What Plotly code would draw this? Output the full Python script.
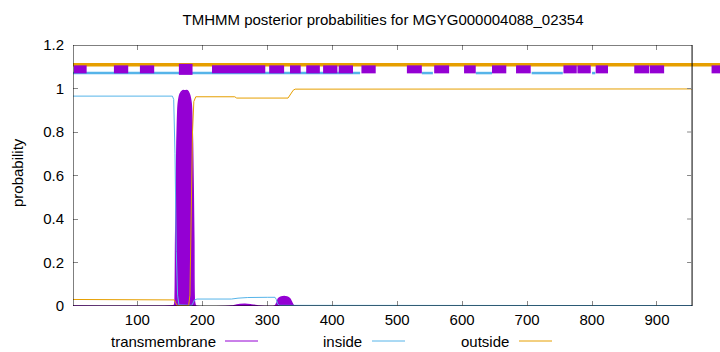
import plotly.graph_objects as go

# ---- data ----
seq_len = 954

tm_pos = [1, 150, 157, 158, 159, 161, 163, 166, 170, 173, 177, 180, 183, 185, 187, 188, 190,
          245, 252, 258, 266, 274, 280, 286, 312, 315, 317, 320, 324, 328, 332, 335, 338, 340, 342, 954]
tm_val = [0.0, 0.0, 0.003, 0.02, 0.3, 0.75, 0.93, 0.975, 0.99, 0.99, 0.99, 0.975, 0.93, 0.75, 0.3, 0.02, 0.0,
          0.0, 0.004, 0.007, 0.008, 0.006, 0.003, 0.0, 0.0, 0.015, 0.032, 0.04, 0.043, 0.043, 0.04, 0.032, 0.015, 0.004, 0.0, 0.0]

in_pos = [1, 154, 156, 158, 160, 162, 164, 184, 186, 188, 192, 245, 255, 270, 300, 312, 314, 316, 319, 954]
in_val = [0.965, 0.965, 0.95, 0.7, 0.25, 0.05, 0.005, 0.003, 0.015, 0.028, 0.032, 0.032, 0.036, 0.039, 0.04, 0.04, 0.03, 0.01, 0.003, 0.002]

out_pos = [1, 154, 157, 159, 161, 163, 179, 181, 183, 185, 187, 190, 250, 253, 332, 336, 340, 343, 954]
out_val = [0.03, 0.03, 0.028, 0.015, 0.004, 0.001, 0.001, 0.05, 0.4, 0.8, 0.94, 0.962, 0.962, 0.956, 0.956, 0.975, 0.992, 0.997, 0.998]

# top strip: predicted regions
outside_strip = [(1, 1010)]
inside_strip = [(1, 443), (538, 555), (621, 646), (707, 755), (800, 805)]
tm_boxes = [(2.5, 22), (64, 86), (104, 126), (215, 297), (303, 326), (335, 351.5), (360, 381),
            (386, 408), (410, 432), (445, 467), (515, 538), (557, 580), (603, 621), (646, 668),
            (683, 705.6), (756, 776.5), (777.5, 798), (805.6, 824.6), (865, 888), (889, 911), (984, 1010)]
tm_big_box = [(164, 185)]
strip_levels = {"outside": 1.109, "tm": 1.088, "inside": 1.071}

x_ticks = [100, 200, 300, 400, 500, 600, 700, 800, 900]
y_ticks = [0, 0.2, 0.4, 0.6, 0.8, 1, 1.2]
y_tick_labels = ["0", "0.2", "0.4", "0.6", "0.8", "1", "1.2"]

C_TM = "#9400D3"
C_IN = "#56B4E9"
C_OUT = "#E69F00"
FONT = "Liberation Sans, Arial, sans-serif"
FS = 15


def segs(pairs, level):
    xs, ys = [], []
    for a, b in pairs:
        xs += [a, b, None]
        ys += [level, level, None]
    return xs, ys


fig = go.Figure()

# main curves
fig.add_trace(go.Scatter(x=tm_pos, y=tm_val, mode="lines", fill="tozeroy",
                         fillcolor=C_TM, line=dict(color=C_TM, width=1.5, shape="spline", smoothing=0.6),
                         hoverinfo="skip"))
fig.add_trace(go.Scatter(x=in_pos, y=in_val, mode="lines",
                         line=dict(color=C_IN, width=1), hoverinfo="skip"))
fig.add_trace(go.Scatter(x=out_pos, y=out_val, mode="lines",
                         line=dict(color=C_OUT, width=1), hoverinfo="skip"))

# top strip
x, y = segs(outside_strip, strip_levels["outside"])
fig.add_trace(go.Scatter(x=x, y=y, mode="lines", line=dict(color=C_OUT, width=3.5), hoverinfo="skip"))
x, y = segs(inside_strip, strip_levels["inside"])
fig.add_trace(go.Scatter(x=x, y=y, mode="lines", line=dict(color=C_IN, width=2.5), hoverinfo="skip"))
x, y = segs(tm_boxes, strip_levels["tm"])
fig.add_trace(go.Scatter(x=x, y=y, mode="lines", line=dict(color=C_TM, width=8), hoverinfo="skip"))
x, y = segs(tm_big_box, strip_levels["tm"])
fig.add_trace(go.Scatter(x=x, y=y, mode="lines", line=dict(color=C_TM, width=11), hoverinfo="skip"))

W, H = 720, 352
ML, MR, MT, MB = 73, 0, 45, 46
pw = W - ML - MR
ph = H - MT - MB
x_range = [1, 997]

shapes = [dict(type="rect", xref="x", yref="y", x0=1, x1=seq_len, y0=0, y1=1.2,
               line=dict(color="black", width=1), layer="above")]
# right-side ticks of the frame
tick_dx = 5 * (x_range[1] - x_range[0]) / pw
for t in y_ticks[1:-1]:
    shapes.append(dict(type="line", xref="x", yref="y", x0=seq_len - tick_dx, x1=seq_len,
                       y0=t, y1=t, line=dict(color="#888888", width=1)))

# legend (gnuplot style: text then line sample)
leg_y_px = 341
leg_items = [("transmembrane", C_TM, 218, 225, 258),
             ("inside", C_IN, 364, 372, 405),
             ("outside", C_OUT, 511, 519, 552)]
annotations = []
for name, col, txt_end, l0, l1 in leg_items:
    yp = (H - MB - leg_y_px) / ph
    annotations.append(dict(text=name, xref="paper", yref="paper", x=(txt_end - ML) / pw, y=yp,
                            xanchor="right", yanchor="middle", showarrow=False,
                            font=dict(family=FONT, size=FS, color="black")))
    shapes.append(dict(type="line", xref="paper", yref="paper", x0=(l0 - ML) / pw, x1=(l1 - ML) / pw,
                       y0=yp, y1=yp, line=dict(color=col, width=1)))

annotations.append(dict(text="probability", xref="paper", yref="paper",
                        x=(17 - ML) / pw, y=(H - MB - 173) / ph, textangle=-90,
                        xanchor="center", yanchor="middle", showarrow=False,
                        font=dict(family=FONT, size=FS, color="black")))

fig.update_layout(
    width=W, height=H,
    margin=dict(l=ML, r=MR, t=MT, b=MB, pad=0),
    plot_bgcolor="white", paper_bgcolor="white",
    showlegend=False,
    title=dict(text="TMHMM posterior probabilities for MGYG000004088_02354",
               x=383 / W, xanchor="center",
               y=1 - 20 / H, yanchor="middle",
               font=dict(family=FONT, size=FS, color="black")),
    xaxis=dict(range=x_range, tickvals=x_ticks, ticks="inside", ticklen=5, tickcolor="#888888",
               mirror="ticks", showline=False, showgrid=False, zeroline=False,
               ticklabelstandoff=3,
               tickfont=dict(family=FONT, size=FS, color="black")),
    yaxis=dict(range=[0, 1.2], tickvals=y_ticks, ticktext=y_tick_labels, ticks="inside",
               ticklen=5, tickcolor="#888888", showline=False, showgrid=False, zeroline=False,
               ticklabelstandoff=8,
               tickfont=dict(family=FONT, size=FS, color="black")),
    shapes=shapes,
    annotations=annotations,
)

fig.write_html("out.html")
